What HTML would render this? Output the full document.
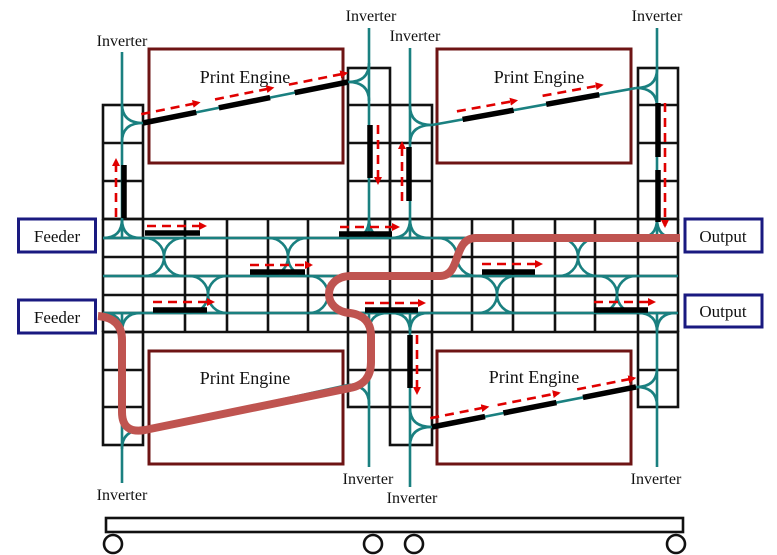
<!DOCTYPE html>
<html><head><meta charset="utf-8"><style>
html,body{margin:0;padding:0;background:#fff;}
svg{display:block;}
text{font-family:"Liberation Serif",serif;fill:#111;}
</style></head><body>
<svg id="s" width="777" height="555" viewBox="0 0 777 555">
<defs>
<marker id="ah" markerWidth="8" markerHeight="8" refX="6" refY="4" orient="auto" markerUnits="userSpaceOnUse" viewBox="0 0 8 8"><path d="M0,0 L8,4 L0,8 z" fill="#e00000"/></marker>
</defs>
<g id="grid" stroke="#111" stroke-width="2.6" fill="none"></g>
<g id="engines">
<rect x="149" y="49" width="194" height="114" fill="none" stroke="#6e1414" stroke-width="3"/>
<rect x="437" y="49" width="194" height="114" fill="none" stroke="#6e1414" stroke-width="3"/>
<rect x="149" y="351" width="194" height="113" fill="none" stroke="#6e1414" stroke-width="3"/>
<rect x="437" y="351" width="194" height="113" fill="none" stroke="#6e1414" stroke-width="3"/>
<text x="245" y="83" font-size="18" text-anchor="middle">Print Engine</text>
<text x="539" y="83" font-size="18" text-anchor="middle">Print Engine</text>
<text x="245" y="384" font-size="18" text-anchor="middle">Print Engine</text>
<text x="534" y="383" font-size="18" text-anchor="middle">Print Engine</text>
</g>
<g id="teal" stroke="#1a8080" stroke-width="2.6" fill="none"></g>
<g id="bars" stroke="#000" stroke-width="5.5" fill="none"></g>
<g id="arrows" stroke="#e00000" stroke-width="2.6" stroke-dasharray="9,6" fill="none"></g>
<path d="M98,316 Q122,318 122,340 L122,412 Q122,434 145,430 L350,388 Q371,384 371,362 L371,336 Q371,316 350,313 C322,311 322,277 350,276 L440,276 C462,276 452,238 476,238 L680,238" fill="none" stroke="#bf5450" stroke-width="8"/>
<g>
<rect x="18.5" y="219" width="77" height="33" fill="#fff" stroke="#1a1a80" stroke-width="3"/>
<text x="57" y="242" font-size="17" text-anchor="middle">Feeder</text>
<rect x="18.5" y="300" width="77" height="33" fill="#fff" stroke="#1a1a80" stroke-width="3"/>
<text x="57" y="323" font-size="17" text-anchor="middle">Feeder</text>
<rect x="685" y="219" width="77" height="33" fill="#fff" stroke="#1a1a80" stroke-width="3"/>
<text x="723" y="242" font-size="17" text-anchor="middle">Output</text>
<rect x="685" y="295" width="77" height="32" fill="#fff" stroke="#1a1a80" stroke-width="3"/>
<text x="723" y="317" font-size="17" text-anchor="middle">Output</text>
</g>
<g>
<text x="122" y="46" text-anchor="middle" font-size="16">Inverter</text>
<text x="371" y="21" text-anchor="middle" font-size="16">Inverter</text>
<text x="415" y="41" text-anchor="middle" font-size="16">Inverter</text>
<text x="657" y="21" text-anchor="middle" font-size="16">Inverter</text>
<text x="122" y="500" text-anchor="middle" font-size="16">Inverter</text>
<text x="368" y="484" text-anchor="middle" font-size="16">Inverter</text>
<text x="412" y="503" text-anchor="middle" font-size="16">Inverter</text>
<text x="656" y="484" text-anchor="middle" font-size="16">Inverter</text>
</g>
<g stroke="#111" stroke-width="2.6" fill="#fff">
<rect x="106" y="518" width="577" height="14"/>
<circle cx="113" cy="544" r="9"/>
<circle cx="373" cy="544" r="9"/>
<circle cx="414" cy="544" r="9"/>
<circle cx="676" cy="544" r="9"/>
</g>
</svg>
<script>
const NS='http://www.w3.org/2000/svg';
function mk(parent,tag,attrs){const e=document.createElementNS(NS,tag);for(const k in attrs)e.setAttribute(k,attrs[k]);parent.appendChild(e);return e;}
const grid=document.getElementById('grid'),teal=document.getElementById('teal'),bars=document.getElementById('bars'),arrows=document.getElementById('arrows');
const colX=[103,143,185,227,268,308,348,390,432,472,513,555,595,638,678];
const rowY=[219,238,257,276,295,313,332];
for(const y of rowY){const e=mk(grid,'line',{x1:103,y1:y,x2:678,y2:y});

}
for(const x of colX){const e=mk(grid,'line',{x1:x,y1:219,x2:x,y2:332});

}
const towers=[[103,143,105,219],[348,390,68,219],[390,432,105,219],[638,678,68,219],
[103,143,332,445],[348,390,332,407],[390,432,332,445],[638,678,332,407]];
const tRows=[68,105,143,181,219,332,370,407,445];
for(const t of towers){const e=mk(grid,'rect',{x:t[0],y:t[2],width:t[1]-t[0],height:t[3]-t[2]});


for(const y of tRows){if(y>t[2]&&y<t[3]){const l=mk(grid,'line',{x1:t[0],y1:y,x2:t[1],y2:y});

}}}
function tp(d,name){const e=mk(teal,'path',{d:d});

}
for(const y of [238,276,313])tp(`M103,${y} L678,${y}`,'transport-lane');
const verts=[[122,52,238,313,483],[369,28,238,313,467],[410,48,238,313,487],[657,28,238,313,467]];
for(const v of verts){tp(`M${v[0]},${v[1]} L${v[0]},${v[2]}`,'inverter-line-top');tp(`M${v[0]},${v[3]} L${v[0]},${v[4]}`,'inverter-line-bottom');
const r=19;
tp(`M${v[0]-r},${v[2]} Q${v[0]},${v[2]} ${v[0]},${v[2]-r} M${v[0]+r},${v[2]} Q${v[0]},${v[2]} ${v[0]},${v[2]-r}`,'junction');
tp(`M${v[0]-r},${v[3]} Q${v[0]},${v[3]} ${v[0]},${v[3]+r} M${v[0]+r},${v[3]} Q${v[0]},${v[3]} ${v[0]},${v[3]+r}`,'junction');}
const cross=[[164,238,276],[288,238,276],[457,238,276],[578,238,276],[208,276,313],[328,276,313],[497,276,313],[617,276,313]];
for(const c of cross){const x=c[0],a=c[1],b=c[2],r=(b-a)/2;
tp(`M${x-r},${a} A${r},${r} 0 0 1 ${x-r},${b} M${x+r},${a} A${r},${r} 0 0 0 ${x+r},${b}`,'crossover');}
const slopes=[[143,123,348,82,122,369],[432,125,636,88,410,657],[143,430,348,385,122,369],[432,427,636,387,410,657]];
for(const s of slopes){tp(`M${s[0]},${s[1]} L${s[2]},${s[3]}`,'engine-path');
const r=19;
tp(`M${s[0]},${s[1]} Q${s[4]},${s[1]} ${s[4]},${s[1]-r} M${s[0]},${s[1]} Q${s[4]},${s[1]} ${s[4]},${s[1]+r}`,'engine-junction');
tp(`M${s[2]},${s[3]} Q${s[5]},${s[3]} ${s[5]},${s[3]-r} M${s[2]},${s[3]} Q${s[5]},${s[3]} ${s[5]},${s[3]+r}`,'engine-junction');}
function bar(x1,y1,x2,y2){const e=mk(bars,'line',{x1,y1,x2,y2});

}
function arr(x1,y1,x2,y2){const e=mk(arrows,'line',{x1,y1,x2,y2,'marker-end':'url(#ah)'});

}
function slopeMarks(s,bt,at){const dx=s[2]-s[0],dy=s[3]-s[1],L=Math.hypot(dx,dy),nx=dy/L*9,ny=-dx/L*9;
for(const b of bt)bar(s[0]+dx*b[0],s[1]+dy*b[0],s[0]+dx*b[1],s[1]+dy*b[1]);
for(const a of at)arr(s[0]+dx*a[0]+nx,s[1]+dy*a[0]+ny,s[0]+dx*a[1]+nx,s[1]+dy*a[1]+ny);}
slopeMarks(slopes[0],[[0,0.26],[0.37,0.62],[0.74,1]],[[0,0.28],[0.36,0.64],[0.72,1]]);
slopeMarks(slopes[1],[[0.15,0.40],[0.56,0.82]],[[0.13,0.42],[0.55,0.84]]);
slopeMarks(slopes[3],[[0,0.26],[0.35,0.61],[0.74,1]],[[0,0.28],[0.33,0.63],[0.72,1]]);
bar(124,165,124,218);arr(116,217,116,160);
bar(370,125,370,178);arr(378,125,378,183);
bar(409,147,409,201);arr(402,201,402,143);
bar(658,103,658,157);bar(658,170,658,222);arr(665,103,665,226);
bar(410,335,410,388);arr(417,335,417,393);
bar(145,233,200,233);arr(147,226,205,226);
bar(339,234,392,234);arr(340,227,398,227);
bar(250,272,305,272);arr(250,265,311,265);
bar(482,272,535,272);arr(482,264,541,264);
bar(153,310,207,310);arr(153,302,213,302);
bar(365,310,418,310);arr(365,303,424,303);
bar(594,310,648,310);arr(594,302,654,302);
</script>
</body></html>
